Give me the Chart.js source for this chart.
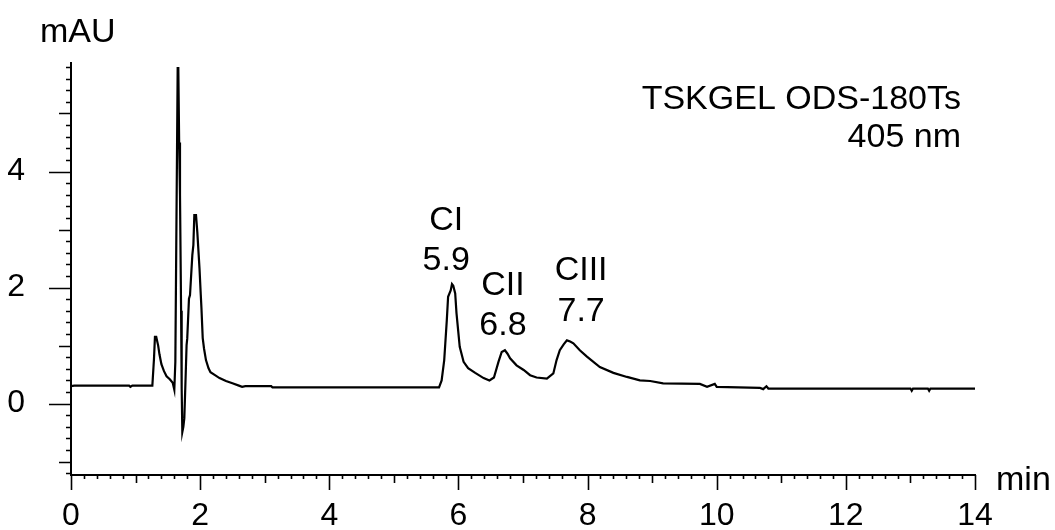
<!DOCTYPE html>
<html>
<head>
<meta charset="utf-8">
<script src="https://cdn.jsdelivr.net/npm/chart.js@4.4.1/dist/chart.umd.min.js"></script>
<style>
  html, body { margin: 0; padding: 0; background: #fff; }
  #wrap { width: 1055px; height: 530px; }
</style>
</head>
<body>
<div id="wrap"><canvas id="myChart" width="1055" height="530"></canvas></div>
<script>
// chromatogram trace (time in min, signal in mAU)
const timeMin = [
  0, 0.05, 0.90, 0.92, 0.95, 1.26, 1.285, 1.30, 1.32, 1.35, 1.37, 1.40, 1.44, 1.48, 1.53, 1.575,
  1.60, 1.616, 1.652, 1.662, 1.675, 1.688, 1.705, 1.714, 1.724, 1.74, 1.755, 1.776, 1.79, 1.80,
  1.827, 1.843, 1.879, 1.895, 1.91, 1.936, 1.956, 1.99, 2.01, 2.02, 2.04, 2.06, 2.09, 2.13, 2.16,
  2.23, 2.30, 2.40, 2.50, 2.60, 2.65, 2.70, 3.10, 3.12, 5.70, 5.74, 5.78, 5.82, 5.84, 5.88, 5.90,
  5.92, 5.95, 5.97, 6.00, 6.02, 6.08, 6.15, 6.26, 6.39, 6.48, 6.55, 6.62, 6.67, 6.72, 6.76, 6.80,
  6.90, 7.01, 7.11, 7.21, 7.37, 7.47, 7.52, 7.57, 7.63, 7.68, 7.73, 7.78, 7.88, 7.99, 8.19, 8.40,
  8.61, 8.81, 8.97, 9.17, 9.74, 9.85, 9.97, 10.00, 10.67, 10.72, 10.77, 10.80, 13.00, 13.02, 13.04,
  13.27, 13.29, 13.31, 14.00
];
const signalMAU = [
  0.30, 0.31, 0.31, 0.29, 0.31, 0.31, 0.77, 1.15, 1.15, 1.00, 0.85, 0.68, 0.56, 0.47, 0.42, 0.36,
  0.24, 0.72, 5.78, 5.78, 4.50, 3.60, 1.60, 0.26, -0.49, -0.40, -0.25, 0.49, 1.01, 1.12,
  1.81, 1.87, 2.56, 2.73, 3.25, 3.25, 2.96, 2.33, 1.87, 1.65, 1.13, 0.95, 0.75, 0.61, 0.54,
  0.49, 0.44, 0.39, 0.35, 0.31, 0.29, 0.30, 0.30, 0.28, 0.28, 0.40, 0.75, 1.44, 1.84, 1.95, 2.06,
  2.03, 1.90, 1.56, 1.21, 0.98, 0.72, 0.61, 0.53, 0.44, 0.40, 0.45, 0.72, 0.89, 0.92, 0.86, 0.78,
  0.66, 0.58, 0.49, 0.45, 0.43, 0.52, 0.75, 0.92, 1.02, 1.09, 1.07, 1.04, 0.92, 0.81, 0.63, 0.53,
  0.46, 0.40, 0.39, 0.35, 0.34, 0.29, 0.34, 0.29, 0.27, 0.25, 0.30, 0.26, 0.26, 0.22, 0.26,
  0.26, 0.22, 0.26, 0.26
];

// peak labels
const peakNames = ['CI', 'CII', 'CIII'];
const peakTimes = ['5.9', '6.8', '7.7'];
const labelX = [5.81, 6.69, 7.90];
const labelNameY = [3.16, 2.04, 2.30];
const labelTimeY = [2.47, 1.34, 1.59];

// axes
const xMin = 0, xMax = 14;
const yMin = -1.23, yMax = 5.87;
const xLabelTicks = [0, 2, 4, 6, 8, 10, 12, 14];
const yLabelTicks = [0, 2, 4];

const infoLines = ['TSKGEL ODS-180Ts', '405 nm'];

const FONT = '"Liberation Sans", Arial, sans-serif';

function isNear(v, list) {
  return list.some(t => Math.abs(v - t) < 1e-6);
}
function isWhole(v) {
  return Math.abs(v - Math.round(v)) < 1e-6;
}

// tick marks with three lengths (major / medium / minor)
const tickPlugin = {
  id: 'tickMarks',
  afterDraw(chart) {
    const ctx = chart.ctx;
    const xs = chart.scales.x, ys = chart.scales.y;
    ctx.save();
    ctx.strokeStyle = '#000';
    ctx.lineWidth = 1.6;
    ctx.beginPath();
    xs.ticks.forEach(t => {
      const px = Math.round(xs.getPixelForValue(t.value)) + 0.5;
      let len = 4;
      if (isNear(t.value, xLabelTicks)) len = 15;
      else if (isWhole(t.value)) len = 8;
      ctx.moveTo(px, xs.top);
      ctx.lineTo(px, xs.top + len);
    });
    ys.ticks.forEach(t => {
      const py = Math.round(ys.getPixelForValue(t.value)) + 0.5;
      let len = 5;
      if (isNear(t.value, yLabelTicks)) len = 22;
      else if (isWhole(t.value)) len = 12;
      ctx.moveTo(ys.right, py);
      ctx.lineTo(ys.right - len, py);
    });
    ctx.stroke();

    // texts
    ctx.fillStyle = '#000';
    ctx.font = '34px ' + FONT;
    ctx.textBaseline = 'alphabetic';
    ctx.textAlign = 'left';
    ctx.fillText('mAU', 40, 42);
    ctx.fillText('min', 996, 490);

    ctx.textAlign = 'right';
    ctx.fillText(infoLines[0], 961, 109);
    ctx.fillText(infoLines[1], 961, 147);

    ctx.textAlign = 'center';
    ctx.textBaseline = 'middle';
    peakNames.forEach((name, i) => {
      const px = xs.getPixelForValue(labelX[i]);
      ctx.fillText(name, px, ys.getPixelForValue(labelNameY[i]));
      ctx.fillText(peakTimes[i], px, ys.getPixelForValue(labelTimeY[i]));
    });
    ctx.restore();
  }
};

const points = timeMin.map((t, i) => ({ x: t, y: signalMAU[i] }));

let ctx = document.getElementById('myChart').getContext('2d');
let myChart = new Chart(ctx, {
  type: 'line',
  data: {
    datasets: [{
      data: points,
      borderColor: '#000',
      borderWidth: 2.2,
      pointRadius: 0,
      tension: 0,
      fill: false
    }]
  },
  options: {
    responsive: false,
    animation: false,
    events: [],
    layout: { padding: { left: 0, right: 80, top: 63, bottom: 0 } },
    plugins: {
      legend: { display: false },
      tooltip: { enabled: false },
      title: { display: false }
    },
    scales: {
      x: {
        type: 'linear',
        min: xMin,
        max: xMax,
        afterFit: function(scale) { scale.height = 55; },
        grid: { display: true, drawOnChartArea: false, drawTicks: true, tickLength: 16, tickColor: 'rgba(0,0,0,0)' },
        border: { display: true, color: '#000', width: 2 },
        ticks: {
          stepSize: 0.2,
          autoSkip: false,
          maxRotation: 0,
          minRotation: 0,
          includeBounds: false,
          padding: 6,
          color: '#000',
          font: { family: FONT, size: 32 },
          callback: function(v) { return isNear(v, xLabelTicks) ? String(Math.round(v)) : ''; }
        }
      },
      y: {
        type: 'linear',
        min: yMin,
        max: yMax,
        afterFit: function(scale) { scale.width = 71; },
        grid: { display: true, drawOnChartArea: false, drawTicks: true, tickLength: 40, tickColor: 'rgba(0,0,0,0)' },
        border: { display: true, color: '#000', width: 2 },
        ticks: {
          stepSize: 0.2,
          autoSkip: false,
          includeBounds: false,
          padding: 6,
          color: '#000',
          font: { family: FONT, size: 32 },
          callback: function(v) { return isNear(v, yLabelTicks) ? String(Math.round(v)) : ''; }
        }
      }
    }
  },
  plugins: [tickPlugin]
});
</script>
</body>
</html>
